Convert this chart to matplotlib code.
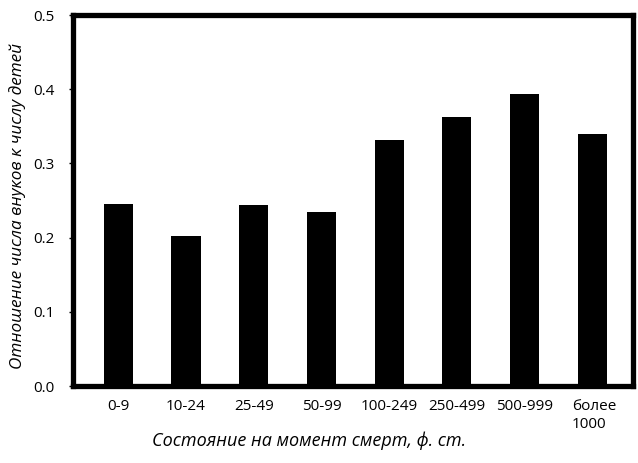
import matplotlib
matplotlib.use('Agg')
import numpy as np
import matplotlib.pyplot as plt

matplotlib.rcParams['font.family'] = 'Open Sans'

categories = ['0-9', '10-24', '25-49', '50-99', '100-249', '250-499', '500-999', 'более\n1000']
ratio = [0.245, 0.202, 0.244, 0.235, 0.331, 0.363, 0.394, 0.339]
yticks = [0.0, 0.1, 0.2, 0.3, 0.4, 0.5]

fig = plt.figure(figsize=(6.38, 4.63), dpi=100)
ax = fig.add_axes([0.1144, 0.1663, 0.8776, 0.8013])

x = np.arange(len(categories))
ax.bar(x, ratio, width=0.43, color='k', edgecolor='none')

ax.set_xlim(-0.67, 7.6)
ax.set_ylim(0, 0.5)
ax.set_yticks(yticks)
ax.set_yticklabels(['%.1f' % v for v in yticks], fontsize=11)
ax.set_xticks(x)
ax.set_xticklabels([])
ax.tick_params(axis='y', length=3, width=1, pad=10)
ax.tick_params(axis='x', length=0)
for t in ax.get_yticklabels():
    t.set_va('center_baseline')

for i, lab in enumerate(categories):
    if '\n' in lab:
        ax.text(i - 0.3, -0.018, lab, ha='left', va='top', fontsize=11,
                linespacing=1.25)
    else:
        ax.text(i, -0.018, lab, ha='center', va='top', fontsize=11)

for s in ax.spines.values():
    s.set_linewidth(3.8)
    s.set_color('k')

fig.text(0.027, 0.556, 'Отношение числа внуков к числу детей', rotation=90,
         ha='center', va='center', fontsize=12.3, style='italic')
fig.text(0.484, 0.048, 'Состояние на момент смерт, ф. ст.', ha='center', va='center',
         fontsize=13, style='italic')

plt.savefig('out.png', dpi=100)
